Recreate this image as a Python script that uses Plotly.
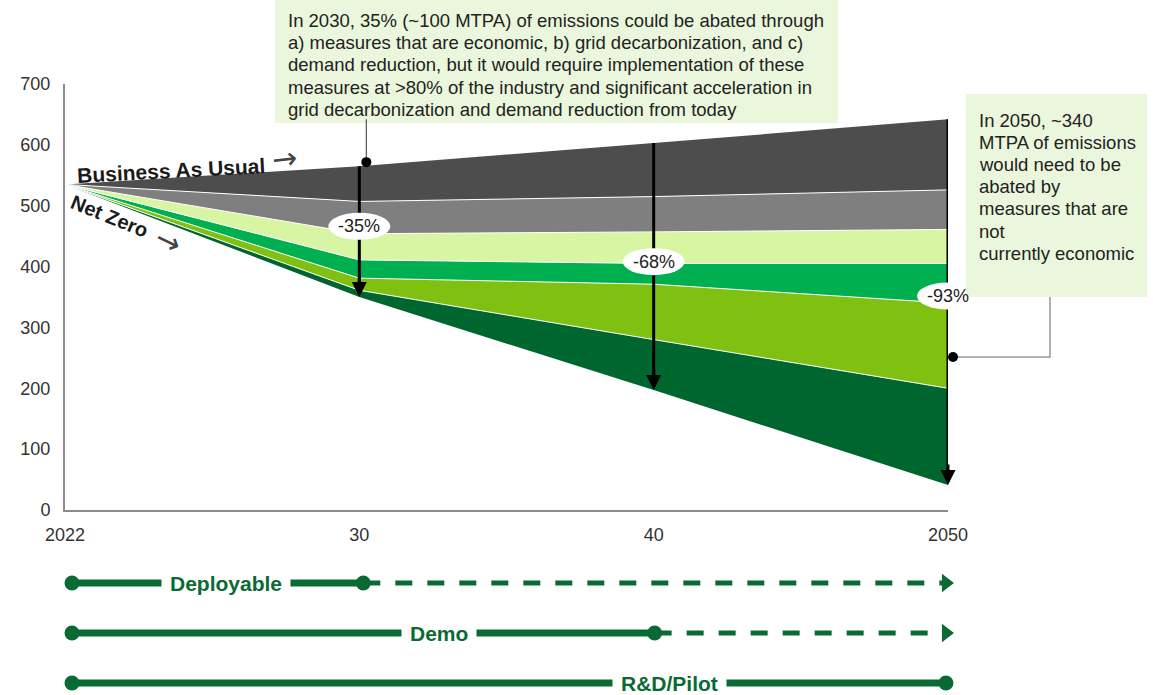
import plotly.graph_objects as go

# ---------------- data ----------------
years = ["2022", "30", "40", "2050"]
bau        = [535, 565, 603, 642]   # Business As Usual (top of dark grey)
top_grey   = [535, 507, 515, 526]   # top of grey band
top_light  = [535, 454, 457, 461]   # top of light-green band
top_green  = [535, 411, 405, 405]   # top of green band
top_lime   = [535, 381, 371, 340]   # top of lime band
top_dark   = [535, 361, 280, 200]   # top of dark-green band
net_zero   = [535, 350, 197, 41]    # Net Zero pathway

reduction_years = ["30", "40", "2050"]
reduction_labels = ["-35%", "-68%", "-93%"]

yticks = [0, 100, 200, 300, 400, 500, 600, 700]

stages = ["Deployable", "Demo", "R&D/Pilot"]
stage_mature = ["30", "40", "2050"]

callout_2030 = [
    "In 2030, 35% (~100 MTPA) of emissions could be abated through",
    "a) measures that are economic, b) grid decarbonization, and c)",
    "demand reduction, but it would require implementation of these",
    "measures at >80% of the industry and significant acceleration in",
    "grid decarbonization and demand reduction from today",
]
callout_2050 = [
    "In 2050, ~340", "MTPA of emissions", "would need to be", "abated by",
    "measures that are", "not", "currently economic",
]

# ---------------- layout helpers ----------------
W, H = 1153, 695
L, R, T, B = 65, 205, 84, 5
PW, PH = W - L - R, H - T - B
FONT = "Liberation Sans, Arial, sans-serif"
ARROW_FONT = "DejaVu Sans, sans-serif"
GREEN_TL = "#0a6a34"
TXT = "#222"


def px(x):
    return (x - L) / PW


def py(y):
    return (H - B - y) / PH


xi = list(range(len(years)))
fig = go.Figure()

# stacked bands (bottom up)
fig.add_trace(go.Scatter(x=xi, y=net_zero, mode="lines", line=dict(width=0, color="#006630"),
                         hoverinfo="skip", showlegend=False))
bands = [
    (top_dark, "#00662f", 1),
    (top_lime, "#80c011", 1),
    (top_green, "#00b050", 1),
    (top_light, "#d8f5a3", 1),
    (top_grey, "#7f7f7f", 1),
    (bau, "#4d4d4d", 0),
]
for vals, col, lw in bands:
    fig.add_trace(go.Scatter(x=xi, y=vals, mode="lines", fill="tonexty", fillcolor=col,
                             line=dict(width=lw, color="white"), hoverinfo="skip",
                             showlegend=False))

shapes = []
annotations = []

# vertical reduction arrows + oval labels
label_frac = [0.46, 0.48, 0.483]  # fraction of arrow length from the top
for k, (yr, lab) in enumerate(zip(reduction_years, reduction_labels)):
    i = years.index(yr)
    top, bot = bau[i], net_zero[i]
    shapes.append(dict(type="line", xref="x", yref="y", x0=i, x1=i, y0=top, y1=bot + 10,
                       line=dict(color="black", width=3), layer="above"))
    annotations.append(dict(x=i, y=bot, xref="x", yref="y", ax=0, ay=-22, showarrow=True,
                            arrowhead=2, arrowsize=1, arrowwidth=3, arrowcolor="black", text=""))
    ly = top - (top - bot) * label_frac[k]
    shapes.append(dict(type="circle", xref="x", yref="y", xsizemode="pixel", ysizemode="pixel",
                       xanchor=i, yanchor=ly, x0=-31, x1=31, y0=-13.5, y1=13.5,
                       fillcolor="white", line=dict(width=0), layer="above"))
    annotations.append(dict(x=i, y=ly, xref="x", yref="y", text=lab, showarrow=False,
                            xanchor="center", yanchor="middle",
                            font=dict(family=FONT, size=18, color=TXT)))

# leader line + dot for 2030 callout
i30 = years.index("30")
shapes.append(dict(type="line", xref="x", yref="y", xsizemode="pixel", ysizemode="pixel",
                   xanchor=i30, yanchor=bau[i30], x0=7, x1=7, y0=4, y1=47,
                   line=dict(color="#555", width=1.2), layer="above"))
shapes.append(dict(type="circle", xref="x", yref="y", xsizemode="pixel", ysizemode="pixel",
                   xanchor=i30, yanchor=bau[i30], x0=2, x1=12, y0=-1, y1=9,
                   fillcolor="black", line=dict(width=0), layer="above"))

# top callout box
shapes.append(dict(type="rect", xref="paper", yref="paper", x0=px(275), x1=px(838),
                   y0=py(123), y1=py(-5), fillcolor="#ebf7dc", line=dict(width=0), layer="below"))
for k, line in enumerate(callout_2030):
    annotations.append(dict(xref="paper", yref="paper", x=px(286), y=py(20 + 22.5 * k),
                            xanchor="left", yanchor="middle", align="left", showarrow=False,
                            text=line, font=dict(family=FONT, size=18.5, color=TXT)))

# right callout box
shapes.append(dict(type="rect", xref="paper", yref="paper", x0=px(966), x1=px(1147),
                   y0=py(297), y1=py(94), fillcolor="#ebf7dc", line=dict(width=0), layer="below"))
for k, line in enumerate(callout_2050):
    annotations.append(dict(xref="paper", yref="paper", x=px(977), y=py(120 + 22.2 * k),
                            xanchor="left", yanchor="middle", align="left", showarrow=False,
                            text=line, font=dict(family=FONT, size=18.5, color=TXT)))
shapes.append(dict(type="path", xref="paper", yref="paper",
                   path=f"M {px(1050)} {py(297)} L {px(1050)} {py(357)} L {px(953)} {py(357)}",
                   line=dict(color="#999", width=1.5), layer="above"))
shapes.append(dict(type="circle", xref="paper", yref="paper", xsizemode="pixel", ysizemode="pixel",
                   xanchor=px(953), yanchor=py(357), x0=-5, x1=5, y0=-5, y1=5,
                   fillcolor="black", line=dict(width=0), layer="above"))

# pathway labels
annotations += [
    dict(xref="paper", yref="paper", x=px(171), y=py(170), text="<b>Business As Usual</b>",
         xanchor="center", yanchor="middle", textangle=-3, showarrow=False,
         font=dict(family=FONT, size=21, color="#1a1a1a")),
    dict(xref="paper", yref="paper", x=px(284), y=py(158), text="→",
         xanchor="center", yanchor="middle", textangle=-6, showarrow=False,
         font=dict(family=ARROW_FONT, size=30, color="#444")),
    dict(xref="paper", yref="paper", x=px(109), y=py(216), text="<b>Net Zero</b>",
         xanchor="center", yanchor="middle", textangle=22, showarrow=False,
         font=dict(family=FONT, size=20, color="#1a1a1a")),
    dict(xref="paper", yref="paper", x=px(168), y=py(240), text="→",
         xanchor="center", yanchor="middle", textangle=26, showarrow=False,
         font=dict(family=ARROW_FONT, size=30, color="#444")),
]

# ---------------- technology maturity timeline ----------------
label_pos = [0.53, 1.26, 2.05]
n_last = len(years) - 1
for r, (stage, mature) in enumerate(zip(stages, stage_mature)):
    row = len(stages) - 1 - r
    m = years.index(mature)
    fig.add_trace(go.Scatter(x=[0, m], y=[row, row], xaxis="x2", yaxis="y2", mode="lines+markers",
                             line=dict(color=GREEN_TL, width=7),
                             marker=dict(symbol="circle", size=15, color=GREEN_TL),
                             cliponaxis=False, hoverinfo="skip", showlegend=False))
    if m < n_last:
        fig.add_trace(go.Scatter(x=[m, n_last], y=[row, row], xaxis="x2", yaxis="y2", mode="lines",
                                 line=dict(color=GREEN_TL, width=5, dash="17px,15px"),
                                 cliponaxis=False, hoverinfo="skip", showlegend=False))
        fig.add_trace(go.Scatter(x=[n_last], y=[row], xaxis="x2", yaxis="y2", mode="markers",
                                 marker=dict(symbol="triangle-right", size=16, color=GREEN_TL),
                                 cliponaxis=False, hoverinfo="skip", showlegend=False))
    annotations.append(dict(xref="x2", yref="y2", x=label_pos[r], y=row, text=f"<b>{stage}</b>",
                            xanchor="center", yanchor="middle",
                            showarrow=False, bgcolor="white", borderpad=8,
                            font=dict(family=FONT, size=21, color=GREEN_TL)))

fig.update_layout(
    width=W, height=H, margin=dict(l=L, r=R, t=T, b=B, autoexpand=False),
    paper_bgcolor="white", plot_bgcolor="white",
    font=dict(family=FONT),
    xaxis=dict(range=[0, n_last], tickvals=xi, ticktext=years, showgrid=False, zeroline=False,
               showline=True, linecolor="#8c8c8c", linewidth=2, ticks="outside", ticklen=7,
               tickcolor="rgba(0,0,0,0)", tickfont=dict(size=18, color="#333"),
               anchor="y", fixedrange=True, automargin=False),
    yaxis=dict(domain=[py(510), 1], range=[0, 700], tickvals=yticks, showgrid=False,
               zeroline=False, showline=True, linecolor="#8c8c8c", linewidth=2, ticks="outside",
               ticklen=9, tickcolor="rgba(0,0,0,0)", tickfont=dict(size=18, color="#333"),
               anchor="x", fixedrange=True, automargin=False),
    xaxis2=dict(range=[-0.024, 3.007], domain=[0, 1], anchor="y2", visible=False,
                automargin=False),
    yaxis2=dict(domain=[0, py(560)], range=[-0.14, 2.46], anchor="x2", visible=False,
                automargin=False),
    shapes=shapes, annotations=annotations,
)

fig.write_html("out.html")
